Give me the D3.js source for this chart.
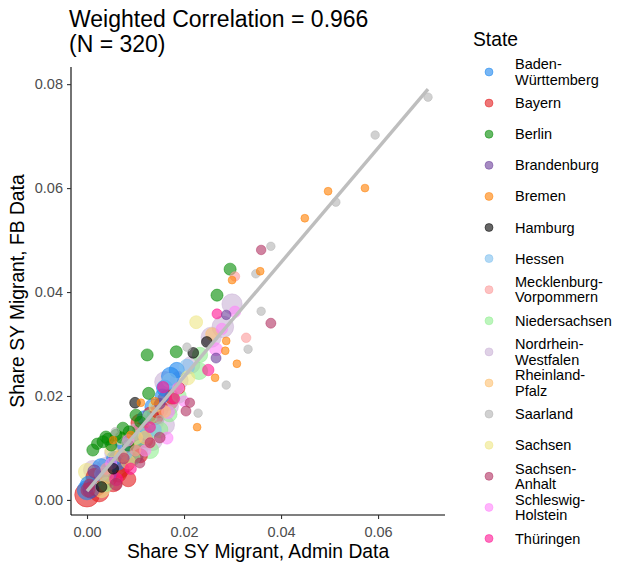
<!DOCTYPE html>
<html><head><meta charset="utf-8">
<script src="https://cdn.jsdelivr.net/npm/d3@7"></script>
<style>body{margin:0;background:#fff}svg{display:block;font-family:"Liberation Sans",Arial,sans-serif}</style>
</head><body><svg id="c" width="618" height="569"></svg>
<script>
const states = ["Baden-Württemberg","Bayern","Berlin","Brandenburg","Bremen","Hamburg","Hessen","Mecklenburg-Vorpommern","Niedersachsen","Nordrhein-Westfalen","Rheinland-Pfalz","Saarland","Sachsen","Sachsen-Anhalt","Schleswig-Holstein","Thüringen"];
const stateCodes = ["BW","BY","BE","BB","HB","HH","HE","MV","NI","NW","RP","SL","SN","ST","SH","TH"];
const legendLabels = [["Baden-","Württemberg"],["Bayern"],["Berlin"],["Brandenburg"],["Bremen"],["Hamburg"],["Hessen"],["Mecklenburg-","Vorpommern"],["Niedersachsen"],["Nordrhein-","Westfalen"],["Rheinland-","Pfalz"],["Saarland"],["Sachsen"],["Sachsen-","Anhalt"],["Schleswig-","Holstein"],["Thüringen"]];
const palette = ["#1C86EE","#E31A1C","#008B00","#6A3D9A","#FF7F00","#000000","#7EC0EE","#FB9A99","#90EE90","#CAB2D6","#FDBF6F","#B3B3B3","#EEE685","#B03060","#FF83FA","#FF1493"];
const xTicks = [0, 0.02, 0.04, 0.06];
const yTicks = [0, 0.02, 0.04, 0.06, 0.08];
const titleLines = ["Weighted Correlation = 0.966", "(N = 320)"];
const fitIntercept = 0.0017, fitSlope = 1.10;
// [state code, share admin, share FB, weight]
const obs = [
["NW",0.0299,0.0377,55],["NW",0.0280,0.0333,65],["NW",0.0256,0.0313,55],["NW",0.0161,0.0227,60],["NW",0.0161,0.0144,45],["NW",0.0134,0.0115,60],["NW",0.0012,0.0058,45],["NW",0.0105,0.0090,50],["NW",0.0055,0.0090,40],["NW",0.0020,0.0030,60],["NW",0.0140,0.0150,35],["NW",0.0190,0.0230,40],
["NW",0.0080,0.0100,45],["NW",0.0170,0.0180,40],["NW",0.0040,0.0065,40],["NW",0.0100,0.0130,35],["NW",0.0215,0.0260,35],
["BY",0.0000,0.0010,90],["BY",0.0167,0.0192,60],["BY",0.0113,0.0131,45],["BY",0.0109,0.0148,40],["BY",0.0033,0.0038,60],["BY",0.0054,0.0033,40],["BY",0.0045,0.0042,30],["BY",0.0070,0.0058,30],["BY",0.0085,0.0040,25],["BY",0.0130,0.0165,20],["BY",0.0120,0.0115,25],["BY",0.0095,0.0100,30],["BY",0.0145,0.0170,15],["BY",0.0190,0.0215,10],["BY",0.0175,0.0198,20],["BY",0.0020,0.0025,40],["BY",0.0060,0.0080,20],
["BY",0.0150,0.0175,35],["BY",0.0140,0.0160,30],["BY",0.0100,0.0110,40],["BY",0.0080,0.0070,35],["BY",0.0065,0.0050,30],["BY",0.0110,0.0085,20],["BY",0.0025,0.0015,50],["BY",0.0015,0.0045,30],
["BW",0.0172,0.0238,40],["BW",0.0136,0.0179,30],["BW",0.0074,0.0106,25],["BW",0.0099,0.0087,35],["BW",0.0029,0.0063,35],["BW",0.0064,0.0071,20],["BW",0.0000,0.0019,50],["BW",0.0003,0.0030,30],["BW",0.0155,0.0200,20],["BW",0.0045,0.0050,25],["BW",0.0118,0.0158,20],
["BW",0.0160,0.0215,30],["BW",0.0110,0.0120,25],["BW",0.0055,0.0080,20],["BW",0.0015,0.0040,40],["BW",0.0185,0.0250,25],
["NI",0.0233,0.0279,25],["NI",0.0231,0.0248,35],["NI",0.0130,0.0160,20],["NI",0.0150,0.0135,30],["NI",0.0130,0.0096,35],["NI",0.0062,0.0052,35],["NI",0.0127,0.0130,25],["NI",0.0095,0.0080,20],
["NI",0.0170,0.0165,25],["NI",0.0110,0.0100,25],["NI",0.0040,0.0030,20],["NI",0.0190,0.0200,20],
["HE",0.0206,0.0256,25],["HE",0.0030,0.0050,20],["HE",0.0120,0.0125,20],["HE",0.0080,0.0090,15],["HE",0.0170,0.0230,20],["HE",0.0140,0.0135,15],
["SN",0.0225,0.0342,15],["SN",0.0208,0.0235,20],["SN",0.0068,0.0119,15],["SN",0.0000,0.0054,35],["SN",0.0100,0.0120,20],["SN",0.0030,0.0020,30],["SN",0.0050,0.0095,15],["SN",0.0140,0.0180,12],
["RP",0.0258,0.0319,15],["RP",0.0085,0.0073,20],["RP",0.0120,0.0120,15],["RP",0.0040,0.0045,20],["RP",0.0070,0.0085,15],["RP",0.0160,0.0170,12],
["ST",0.0359,0.0481,5],["ST",0.0379,0.0340,6],["ST",0.0212,0.0187,5],["ST",0.0204,0.0171,6],["ST",0.0109,0.0071,6],["ST",0.0002,0.0019,20],["ST",0.0005,0.0029,10],["ST",0.0130,0.0110,6],["ST",0.0076,0.0080,8],["ST",0.0150,0.0120,8],["ST",0.0060,0.0030,12],
["MV",0.0328,0.0312,5],["MV",0.0305,0.0430,5],["MV",0.0100,0.0095,8],["MV",0.0040,0.0060,10],["MV",0.0130,0.0110,8],
["BB",0.0287,0.0356,5],["BB",0.0266,0.0273,6],["BB",0.0008,0.0019,30],["BB",0.0015,0.0055,15],["BB",0.0150,0.0185,8],
["BE",0.0295,0.0444,12],["BE",0.0268,0.0394,12],["BE",0.0184,0.0285,12],["BE",0.0124,0.0279,12],["BE",0.0127,0.0205,12],["BE",0.0101,0.0163,12],["BE",0.0074,0.0138,12],["BE",0.0087,0.0131,12],["BE",0.0043,0.0117,12],["BE",0.0033,0.0112,12],["BE",0.0012,0.0096,12],["BE",0.0039,0.0121,12],["BE",0.0021,0.0108,10],["BE",0.0060,0.0125,10],["BE",0.0110,0.0150,10],["BE",0.0085,0.0105,10],["BE",0.0050,0.0105,10],["BE",0.0070,0.0120,10],
["HH",0.0219,0.0283,8],["HH",0.0247,0.0304,8],["HH",0.0099,0.0187,8],["HH",0.0054,0.0060,8],["HH",0.0030,0.0025,8],
["SH",0.0305,0.0362,10],["SH",0.0278,0.0329,10],["SH",0.0266,0.0290,15],["SH",0.0188,0.0215,10],["SH",0.0167,0.0169,15],["SH",0.0165,0.0119,12],["SH",0.0085,0.0115,10],["SH",0.0050,0.0070,10],["SH",0.0120,0.0095,10],["SH",0.0200,0.0190,8],
["TH",0.0268,0.0358,6],["TH",0.0250,0.0250,10],["TH",0.0157,0.0217,10],["TH",0.0130,0.0140,8],["TH",0.0060,0.0040,15],["TH",0.0090,0.0060,10],["TH",0.0180,0.0195,8],
["SL",0.0703,0.0775,3],["SL",0.0594,0.0702,3],["SL",0.0513,0.0573,3],["SL",0.0379,0.0488,3],["SL",0.0348,0.0435,3],["SL",0.0359,0.0363,3],["SL",0.0332,0.0290,3],["SL",0.0287,0.0221,3],["SL",0.0229,0.0167,3],["SL",0.0206,0.0294,3],["SL",0.0058,0.0131,3],["SL",0.0080,0.0110,3],["SL",0.0150,0.0155,3],
["HB",0.0573,0.0600,2],["HB",0.0497,0.0594,2],["HB",0.0449,0.0542,2],["HB",0.0357,0.0440,2],["HB",0.0299,0.0423,2],["HB",0.0287,0.0306,2],["HB",0.0285,0.0287,2],["HB",0.0309,0.0262,2],["HB",0.0264,0.0235,2],["HB",0.0227,0.0140,2],["HB",0.0111,0.0187,2],["HB",0.0054,0.0115,2],["HB",0.0090,0.0125,2],["HB",0.0140,0.0190,2]
];

const svg = d3.select("#c");
const P = {l:71, r:445, t:67, b:515};
const x = d3.scaleLinear().domain([-0.0033, 0.0738]).range([P.l, P.r]);
const y = d3.scaleLinear().domain([-0.0029, 0.0833]).range([P.b, P.t]);
const r = d3.scaleSqrt().domain([1, 100]).range([3.5, 12.8]);
const color = d3.scaleOrdinal().domain(stateCodes).range(palette);

const pts = obs.map(d => ({s:d[0], x:d[1], y:d[2], w:d[3]})).sort((a,b)=>b.w-a.w);
const g = svg.append("g");
g.selectAll("circle").data(pts).join("circle")
  .attr("cx", d=>x(d.x)).attr("cy", d=>y(d.y)).attr("r", d=>r(d.w))
  .attr("fill", d=>color(d.s)).attr("fill-opacity",0.6)
  .attr("stroke", d=>color(d.s)).attr("stroke-opacity",0.6).attr("stroke-width",0.8);

const xr = d3.extent(pts, d=>d.x);
svg.append("line")
  .attr("x1", x(xr[0])).attr("y1", y(fitIntercept + fitSlope*xr[0]))
  .attr("x2", x(xr[1])).attr("y2", y(fitIntercept + fitSlope*xr[1]))
  .attr("stroke","#BEBEBE").attr("stroke-width",3.4);

const xa = svg.append("g").attr("transform",`translate(0,${P.b})`)
  .call(d3.axisBottom(x).tickValues(xTicks).tickFormat(d3.format(".2f")).tickSize(4).tickSizeOuter(0));
const ya = svg.append("g").attr("transform",`translate(${P.l},0)`)
  .call(d3.axisLeft(y).tickValues(yTicks).tickFormat(d3.format(".2f")).tickSize(4).tickSizeOuter(0));
[xa, ya].forEach(a => {
  a.select(".domain").attr("stroke","#000").attr("stroke-width",1.1);
  a.selectAll(".tick line").attr("stroke","#333").attr("stroke-width",1.1);
  a.selectAll(".tick text").attr("fill","#4D4D4D").style("font-size","14.5px").style("font-family","Liberation Sans, Arial, sans-serif");
});
xa.selectAll(".tick text").attr("dy","0.71em").attr("y",12);
ya.selectAll(".tick text").attr("x",-8);
xa.select(".domain").attr("d", `M${P.l},0H${P.r}`);
ya.select(".domain").attr("d", `M0,${P.t}V${P.b}`);

svg.append("text").attr("x", 258).attr("y", 558).attr("text-anchor","middle")
  .style("font-size","19.3px").text("Share SY Migrant, Admin Data");
svg.append("text").attr("transform",`translate(24,${(P.t+P.b)/2}) rotate(-90)`).attr("text-anchor","middle")
  .style("font-size","19.3px").text("Share SY Migrant, FB Data");

svg.append("g").selectAll("text").data(titleLines).join("text")
  .attr("x", 69).attr("y", (d,i)=>27+i*25).style("font-size","23px").text(d=>d);

// legend
const lg = svg.append("g");
lg.append("text").attr("x",473).attr("y",46).style("font-size","19.3px").text("State");
const ly = i => 72 + i*31.1;
lg.selectAll("circle").data(stateCodes).join("circle")
  .attr("cx",489).attr("cy",(d,i)=>ly(i)).attr("r",4)
  .attr("fill",d=>color(d)).attr("fill-opacity",0.6)
  .attr("stroke",d=>color(d)).attr("stroke-opacity",0.6).attr("stroke-width",0.8);
legendLabels.forEach((lines,i) => {
  const t = lg.append("text").attr("x",515).style("font-size","14.5px").attr("fill","#000");
  const y0 = ly(i) + 5 - (lines.length-1)*7.7;
  lines.forEach((ln,j)=> t.append("tspan").attr("x",515).attr("y", y0 + j*15.4).text(ln));
});
</script></body></html>
